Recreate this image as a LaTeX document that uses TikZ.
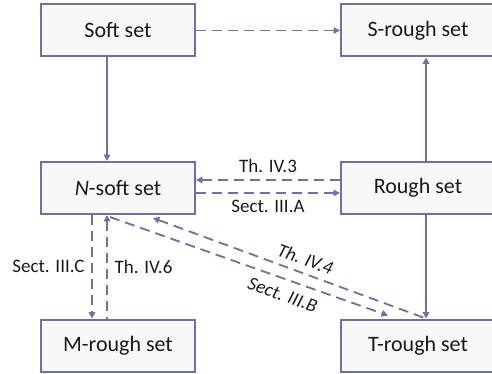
\documentclass[tikz,border=0pt]{standalone}
\usepackage{fontspec}
\setmainfont{Carlito}
\usetikzlibrary{arrows.meta}
\definecolor{lineblue}{RGB}{110,110,168}
\definecolor{boxfill}{RGB}{247,249,249}
\definecolor{txt}{RGB}{25,25,25}
\tikzset{>={Triangle[length=3.2pt,width=3.2pt]}}
\tikzset{setbox/.style={draw=lineblue, line width=1pt, fill=boxfill, minimum width=77pt, minimum height=26pt, text=txt, font=\fontsize{11}{13}\selectfont}}
\tikzset{lbl/.style={text=txt, font=\fontsize{9.5}{11}\selectfont}}
\tikzset{link/.style={draw=lineblue, line width=0.9pt}}
\tikzset{dlink/.style={link, dash pattern=on 5pt off 3pt}}

\begin{document}
\begin{tikzpicture}[x=0.5pt, y=-0.5pt]
\useasboundingbox (0,0) rectangle (492,374);
\node [setbox] (soft) at (118,30.5) {Soft set};
\node [setbox] (srough) at (418,30.5) {S-rough set};
\node [setbox] (nsoft) at (118,188) {\textit{N}-soft set};
\node [setbox] (rough) at (418,188) {Rough set};
\node [setbox] (mrough) at (118,345.5) {M-rough set};
\node [setbox] (trough) at (418,345.5) {T-rough set};
% top row
\draw [dlink, ->] (soft.east) -- (srough.west);
\draw [link, ->] ([xshift=-5.5pt]soft.south) -- ([xshift=-5.5pt]nsoft.north);
\draw [link, ->] ([xshift=4pt]rough.north) -- ([xshift=4pt]srough.south);
\draw [link, ->] ([xshift=4pt]rough.south) -- ([xshift=4pt]trough.north);
% middle row
\draw [dlink, <-] ([yshift=4pt]nsoft.east) -- ([yshift=4pt]rough.west) node [lbl, midway, above] {Th. IV.3};
\draw [dlink, ->] ([yshift=-2.5pt]nsoft.east) -- ([yshift=-2.5pt]rough.west) node [lbl, midway, below] {Sect. III.A};
% down to M-rough
\draw [dlink, ->] ([xshift=-13pt]nsoft.south) -- ([xshift=-13pt]mrough.north) node [lbl, midway, left] {Sect. III.C};
\draw [dlink, <-] ([xshift=-5.5pt]nsoft.south) -- ([xshift=-5.5pt]mrough.north) node [lbl, midway, right] {Th. IV.6};
% across to T-rough
\draw [dlink, <-] ([xshift=17.5pt,yshift=-1.5pt]nsoft.south) -- ([xshift=4pt]trough.north) node [lbl, pos=0.54, above, sloped, font=\fontsize{9.5}{11}\selectfont\itshape] {Th. IV.4};
\draw [dlink, ->] ([xshift=-4pt,yshift=-1pt]nsoft.south) -- ([xshift=-15pt,yshift=1.5pt]trough.north) node [lbl, pos=0.64, below, sloped, yshift=-1pt, font=\fontsize{9.5}{11}\selectfont\itshape] {Sect. III.B};
\end{tikzpicture}
\end{document}
